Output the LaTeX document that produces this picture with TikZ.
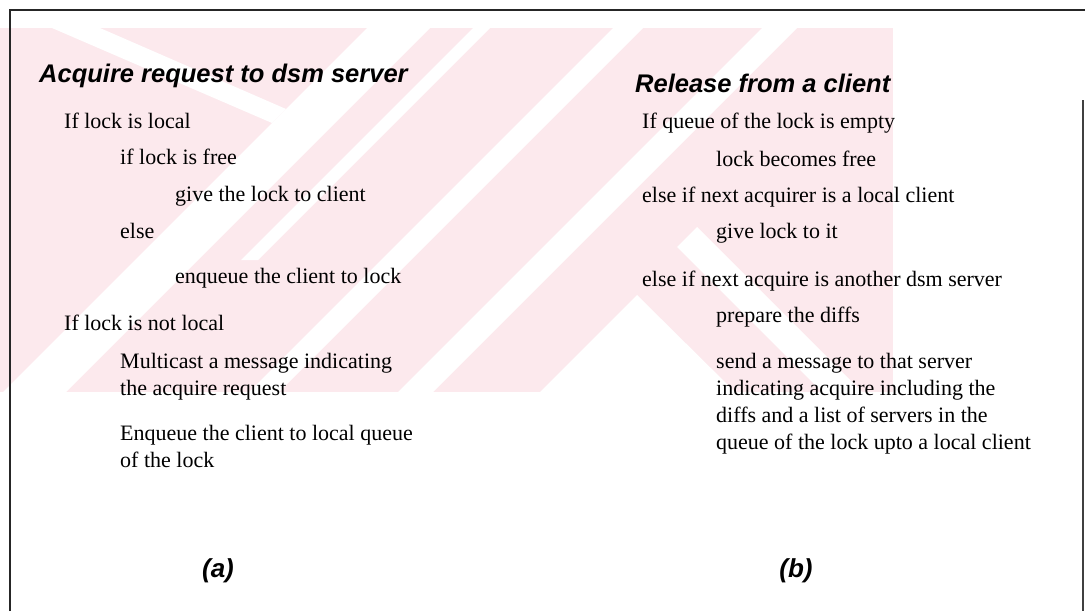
\documentclass[tikz,border=0pt]{standalone}
\usepackage{fontspec}
\setmainfont{Liberation Serif}
\newfontfamily\headfont{Liberation Sans}
\definecolor{wm}{RGB}{252,233,237}
\begin{document}
\begin{tikzpicture}[x=1pt,y=-1pt,
  body/.style={anchor=base west, inner sep=0pt, font=\fontsize{22}{27}\selectfont, align=left},
  head/.style={anchor=base west, inner sep=0pt, font=\headfont\bfseries\itshape\fontsize{25.5}{30}\selectfont},
  caption/.style={anchor=base, inner sep=0pt, font=\headfont\bfseries\itshape\fontsize{26}{30}\selectfont},
  frameline/.style={line width=1.4pt, draw=black!85}]
\useasboundingbox (0,0) rectangle (1085,611);
\fill[white] (0,0) rectangle (1085,611);
% watermark
\begin{scope}
  \clip (0,28) rectangle (893,392);
  \fill[wm] (0,28) rectangle (893,392);
  \fill[white] (52,28) -- (100,28) -- (286,109) -- (272,123) -- cycle;
  \fill[white] (367,28) -- (430,28) -- (66,392) -- (3,392) -- cycle;
  \fill[white] (473,28) -- (490,28) -- (258,260) -- (241,260) -- cycle;
  \fill[white] (613,28) -- (643,28) -- (279,392) -- (249,392) -- cycle;
  \fill[white] (762,28) -- (797,28) -- (433,392) -- (398,392) -- cycle;
  \fill[white] (637,295) -- (735,392) -- (540,392) -- cycle;
  \fill[white] (677,247) -- (697,227) -- (862,392) -- (822,392) -- cycle;
\end{scope}
% frame
\coordinate (tl) at (10,10);
\coordinate (tr) at (1085,10);
\coordinate (bl) at (10,611);
\coordinate (rt) at (1083,100);
\coordinate (rb) at (1083,611);
\draw[frameline] (bl) -- (tl) -- (tr);
\draw[frameline, draw=black!75] (rt) -- (rb);
% panel (a)
\node[head] (ha) at (39,82) {Acquire request to dsm server};
\node[body] (a1) at (64,128) {If lock is local};
\node[body] (a2) at (120,164) {if lock is free};
\node[body] (a3) at (175,201) {give the lock to client};
\node[body] (a4) at (120,238) {else};
\node[body] (a5) at (175,283) {enqueue the client to lock};
\node[body] (a6) at (64,330) {If lock is not local};
\node[body] (a7) at (120,395) {Multicast a message indicating\\the acquire request};
\node[body] (a8) at (120,467) {Enqueue the client to local queue\\of the lock};
\node[caption] (capa) at (218,577) {(a)};
% panel (b)
\node[head] (hb) at (635,92) {Release from a client};
\node[body] (b1) at (642,128) {If queue of the lock is empty};
\node[body] (b2) at (716,166) {lock becomes free};
\node[body] (b3) at (642,202) {else if next acquirer is a local client};
\node[body] (b4) at (716,238) {give lock to it};
\node[body] (b5) at (642,286) {else if next acquire is another dsm server};
\node[body] (b6) at (716,322) {prepare the diffs};
\node[body] (b7) at (716,449) {send a message to that server\\indicating acquire including the\\diffs and a list of servers in the\\queue of the lock upto a local client};
\node[caption] (capb) at (796,577) {(b)};
\end{tikzpicture}
\end{document}
